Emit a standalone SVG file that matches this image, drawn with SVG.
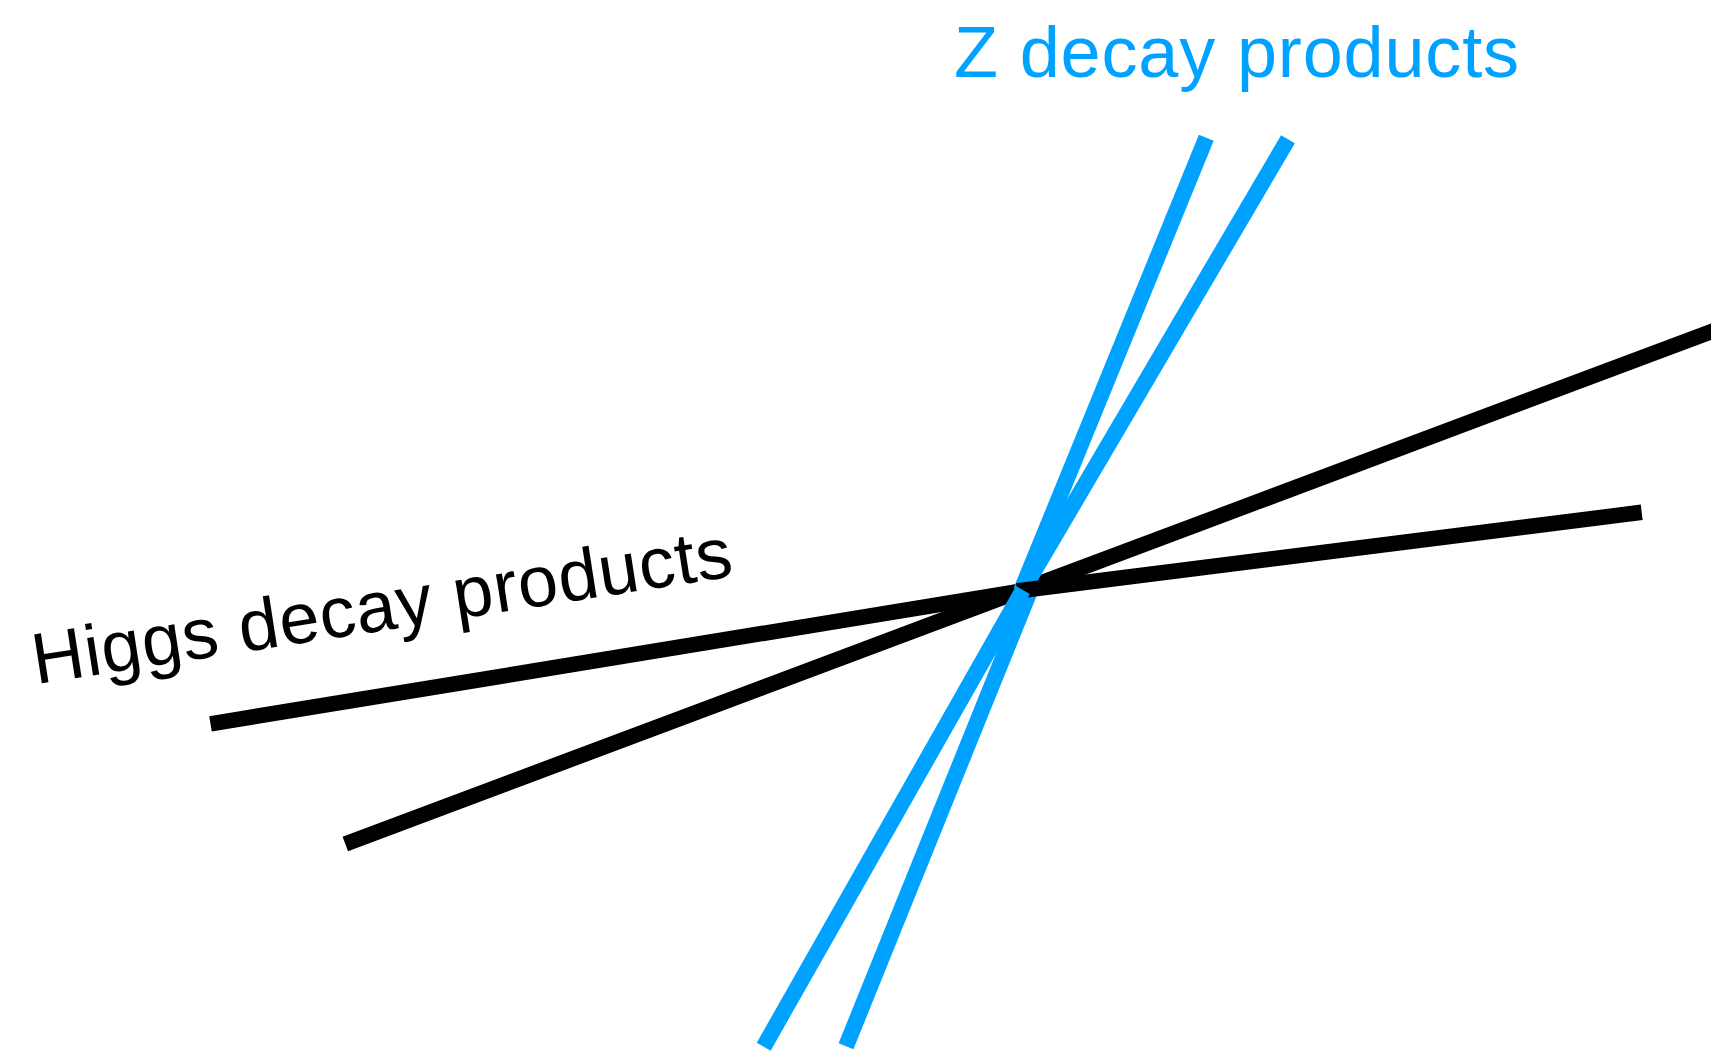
<svg xmlns="http://www.w3.org/2000/svg" width="1711" height="1053" viewBox="0 0 1711 1053">
  <style>
    .higgs { stroke: #000000; stroke-width: 15.5; stroke-linecap: butt; fill: none; }
    .z { stroke: #00A2FF; stroke-width: 16; stroke-linecap: butt; fill: none; }
    .label { font-family: "Liberation Sans", Arial, Helvetica, sans-serif; font-size: 72px; }
  </style>
  <rect x="0" y="0" width="1711" height="1053" fill="#ffffff"/>
  <g id="connectors">
    <line id="higgs-long" class="higgs" x1="345.3" y1="844" x2="1720" y2="328.3"/>
    <line id="higgs-short-left" class="higgs" x1="210.5" y1="723.8" x2="1022" y2="591"/>
    <line id="z-a-top" class="z" x1="1206.3" y1="137.8" x2="1021" y2="591"/>
    <line id="z-a-bottom" class="z" x1="1030" y1="591" x2="846" y2="1046.3"/>
    <line id="z-b-top" class="z" x1="1288" y1="139.2" x2="1023" y2="590"/>
    <line id="higgs-short-right" class="higgs" x1="1017" y1="591" x2="1641.7" y2="512.3"/>
    <line id="z-b-bottom" class="z" x1="1023" y1="590" x2="763.7" y2="1046.7"/>
  </g>
  <g id="z-label">
    <text class="label" x="954" y="76.5" fill="#00A2FF" textLength="565" lengthAdjust="spacing">Z decay products</text>
  </g>
  <g id="higgs-label">
    <text class="label" transform="translate(36.1 684.2) rotate(-8.8)" x="0" y="0" fill="#000000" textLength="707" lengthAdjust="spacing">Higgs decay products</text>
  </g>
</svg>
